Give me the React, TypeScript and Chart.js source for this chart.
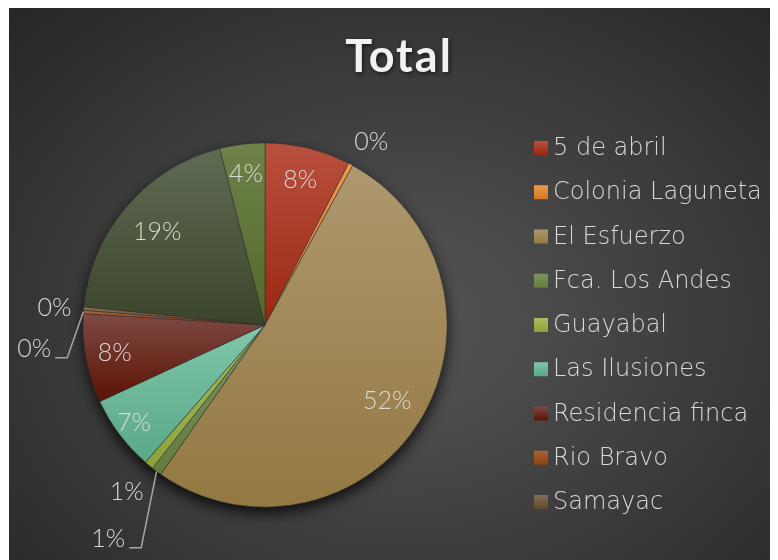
import React, { useEffect, useRef } from 'react';
import { Chart, registerables } from 'chart.js';

Chart.register(...registerables);

// ---- data ----
const chartTitle = 'Total';
const categories = [
  '5 de abril',
  'Colonia Laguneta',
  'El Esfuerzo',
  'Fca. Los Andes',
  'Guayabal',
  'Las Ilusiones',
  'Residencia finca',
  'Rio Bravo',
  'Samayac',
  'Otro 1',
  'Otro 2',
];
const values = [7.6, 0.4, 51.7, 0.9, 0.8, 6.7, 7.9, 0.3, 0.3, 19.4, 4.0];
// number of legend entries that fit (the reference legend is cut off)
const legendVisibleCount = 9;

// ---- styles ----
const colorTop = ['#B9503E', '#EE9A4E', '#AE986F', '#7C9462', '#A8BC62', '#80C6AB', '#7E4A44', '#AA6438', '#847058', '#5F6B53', '#6E8249'];
const colorBottom = ['#9A2810', '#D47820', '#937841', '#637D3E', '#8DA23A', '#58A886', '#5C1202', '#8A420E', '#62492A', '#3B452B', '#53692A'];

type Placement = { dist: number; dx?: number; dy?: number; leader?: boolean };
const labelPlacement: Placement[] = [
  { dist: 0.82 },
  { dist: 1.17, dx: 6, dy: 5 },
  { dist: 0.79 },
  { dist: 1.16, dx: -31, dy: 44, leader: true },
  { dist: 1.19 },
  { dist: 0.9 },
  { dist: 0.84 },
  { dist: 1.16, dx: -20, dy: 39, leader: true },
  { dist: 1.16, dy: 2 },
  { dist: 0.78 },
  { dist: 0.835 },
];

const W = 762;
const H = 560;

function sliceFill(ctx: any) {
  const chart = ctx.chart;
  const ca = chart.chartArea;
  const i = ctx.dataIndex;
  if (i == null) return colorTop[0];
  if (!ca) return colorTop[i];
  const total = values.reduce((a, b) => a + b, 0);
  let before = 0;
  for (let k = 0; k < i; k++) before += values[k];
  const a0 = -Math.PI / 2 + (before / total) * 2 * Math.PI;
  const a1 = a0 + (values[i] / total) * 2 * Math.PI;
  const cx = (ca.left + ca.right) / 2;
  const cy = (ca.top + ca.bottom) / 2;
  const r = Math.min(ca.width, ca.height) / 2;
  const ys = [cy, cy + r * Math.sin(a0), cy + r * Math.sin(a1)];
  for (const t of [-Math.PI / 2, Math.PI / 2, (3 * Math.PI) / 2]) {
    if (t >= a0 && t <= a1) ys.push(cy + r * Math.sin(t));
  }
  const y0 = Math.min(...ys);
  let y1 = Math.max(...ys);
  if (y1 - y0 < 1) y1 = y0 + 1;
  const g = chart.ctx.createLinearGradient(0, y0, 0, y1);
  g.addColorStop(0, colorTop[i]);
  g.addColorStop(1, colorBottom[i]);
  return g;
}

const shadowPlugin = {
  id: 'pieShadow',
  beforeDatasetsDraw(chart: any) {
    const arc = chart.getDatasetMeta(0).data[0];
    if (!arc) return;
    const c = chart.ctx;
    c.save();
    c.shadowColor = 'rgba(0,0,0,0.8)';
    c.shadowBlur = 14;
    c.shadowOffsetY = 6;
    c.beginPath();
    c.arc(arc.x, arc.y, arc.outerRadius, 0, Math.PI * 2);
    c.fillStyle = '#303030';
    c.fill();
    c.restore();
  },
};

const decorPlugin = {
  id: 'decor',
  afterDraw(chart: any) {
    const c = chart.ctx;
    const meta = chart.getDatasetMeta(0);
    const total = values.reduce((a, b) => a + b, 0);

    // title
    c.save();
    c.font = 'bold 45px Lato';
    c.textAlign = 'center';
    c.textBaseline = 'middle';
    (c as any).letterSpacing = '2px';
    c.shadowColor = 'rgba(0,0,0,0.55)';
    c.shadowBlur = 4;
    c.shadowOffsetX = 1.5;
    c.shadowOffsetY = 2;
    c.fillStyle = '#F2F2F2';
    c.fillText(chartTitle, 390, 49);
    c.restore();

    // data labels
    c.save();
    c.font = '300 25px Lato';
    c.textAlign = 'center';
    c.textBaseline = 'middle';
    c.fillStyle = '#D9D9D9';
    c.strokeStyle = '#A6A6A6';
    c.lineWidth = 1.5;
    meta.data.forEach((arc: any, i: number) => {
      const p = labelPlacement[i] || { dist: 0.8 };
      const mid = (arc.startAngle + arc.endAngle) / 2;
      const r = arc.outerRadius;
      const lx = arc.x + Math.cos(mid) * r * p.dist + (p.dx || 0);
      const ly = arc.y + Math.sin(mid) * r * p.dist + (p.dy || 0);
      const txt = Math.round((values[i] / total) * 100) + '%';
      c.fillText(txt, lx, ly);
      if (p.leader) {
        const w = c.measureText(txt).width;
        const sx = lx + w / 2 + 4;
        const sy = ly + 9;
        c.beginPath();
        c.moveTo(sx, sy);
        c.lineTo(sx + 12, sy);
        c.lineTo(arc.x + Math.cos(mid) * r, arc.y + Math.sin(mid) * r);
        c.stroke();
      }
    });
    c.restore();

    // legend
    c.save();
    c.font = '300 24px "DejaVu Sans"';
    c.textAlign = 'left';
    c.textBaseline = 'middle';
    for (let i = 0; i < Math.min(legendVisibleCount, categories.length); i++) {
      const yc = 140 + 44.25 * i;
      const g = c.createLinearGradient(0, yc - 7, 0, yc + 7);
      g.addColorStop(0, colorTop[i]);
      g.addColorStop(1, colorBottom[i]);
      c.fillStyle = g;
      c.fillRect(525, yc - 7, 14, 14);
      c.fillStyle = '#D9D9D9';
      c.fillText(categories[i], 544, yc + 1);
    }
    c.restore();
  },
};

export default function App() {
  const ref = useRef<HTMLCanvasElement | null>(null);
  useEffect(() => {
    if (!ref.current) return;
    const chart = new Chart(ref.current, {
      type: 'pie',
      data: {
        labels: categories,
        datasets: [
          {
            data: values,
            backgroundColor: sliceFill,
            borderColor: 'rgba(45,45,45,0.7)',
            borderWidth: 0.75,
          },
        ],
      },
      options: {
        responsive: false,
        animation: false,
        devicePixelRatio: 1,
        layout: { padding: { left: 73.5, right: 323.5, top: 134.5, bottom: 60.5 } },
        plugins: {
          legend: { display: false },
          title: { display: false },
          tooltip: { enabled: false },
        },
      },
      plugins: [shadowPlugin, decorPlugin],
    });
    return () => chart.destroy();
  }, []);

  return (
    <div
      style={{
        marginLeft: 1,
        width: W,
        height: H,
        background: 'radial-gradient(ellipse farthest-corner at 52% 56%, #545454 0%, #4a4a4a 25%, #262626 100%)',
      }}
    >
      <canvas ref={ref} width={W} height={H} style={{ display: 'block', width: W, height: H }} />
    </div>
  );
}
